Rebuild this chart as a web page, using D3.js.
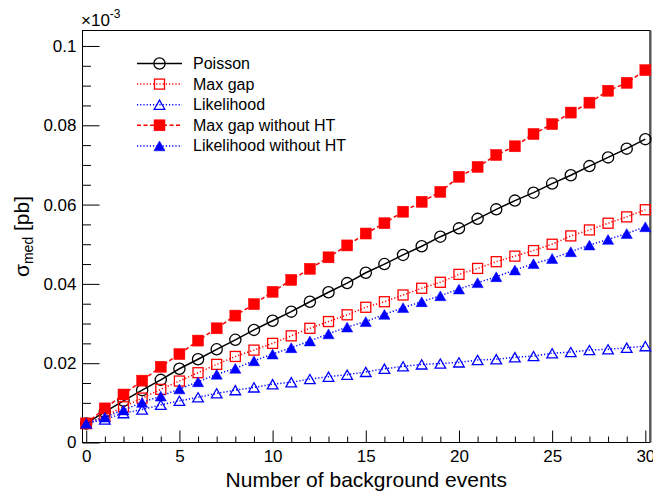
<!DOCTYPE html>
<html>
<head>
<meta charset="utf-8">
<script src="https://cdn.jsdelivr.net/npm/d3@7/dist/d3.min.js"></script>
<style>
  body { margin: 0; background: #fff; }
  text { font-family: "Liberation Sans", Arial, Helvetica, sans-serif; fill: #000; }
</style>
</head>
<body>
<div id="chart"></div>
<script>
// number of background events, 0..30
var nBkg = d3.range(0, 31);

// sigma_med in units of 1e-3 pb
var poisson = [0.0048, 0.0077, 0.0105, 0.0132, 0.0158, 0.0186, 0.0210, 0.0235, 0.0259, 0.0284,
               0.0307, 0.0330, 0.0355, 0.0379, 0.0402, 0.0428, 0.0450, 0.0473, 0.0495, 0.0519,
               0.0540, 0.0564, 0.0588, 0.0610, 0.0630, 0.0653, 0.0674, 0.0697, 0.0719, 0.0741, 0.0765];
var maxGap = [0.0048, 0.0066, 0.0090, 0.0112, 0.0134, 0.0155, 0.0176, 0.0197, 0.0217, 0.0233,
              0.0250, 0.0269, 0.0288, 0.0305, 0.0322, 0.0341, 0.0355, 0.0372, 0.0389, 0.0404,
              0.0424, 0.0439, 0.0456, 0.0470, 0.0484, 0.0500, 0.0521, 0.0536, 0.0553, 0.0569, 0.0587];
var likelihood = [0.0048, 0.0058, 0.0074, 0.0083, 0.0095, 0.0105, 0.0114, 0.0124, 0.0132, 0.0139,
                  0.0147, 0.0152, 0.0160, 0.0166, 0.0171, 0.0178, 0.0186, 0.0192, 0.0197, 0.0199,
                  0.0202, 0.0208, 0.0210, 0.0215, 0.0218, 0.0225, 0.0228, 0.0233, 0.0235, 0.0239, 0.0243];
var maxGapNoHT = [0.0048, 0.0086, 0.0121, 0.0156, 0.0191, 0.0223, 0.0257, 0.0288, 0.0320, 0.0349,
                  0.0380, 0.0410, 0.0438, 0.0467, 0.0497, 0.0527, 0.0553, 0.0582, 0.0607, 0.0632,
                  0.0670, 0.0695, 0.0725, 0.0747, 0.0778, 0.0803, 0.0832, 0.0857, 0.0887, 0.0907, 0.0939];
var likelihoodNoHT = [0.0048, 0.0064, 0.0082, 0.0101, 0.0117, 0.0135, 0.0153, 0.0172, 0.0187, 0.0206,
                      0.0223, 0.0239, 0.0256, 0.0274, 0.0291, 0.0305, 0.0323, 0.0340, 0.0355, 0.0370,
                      0.0387, 0.0403, 0.0418, 0.0435, 0.0451, 0.0464, 0.0481, 0.0498, 0.0512, 0.0527, 0.0544];

var seriesNames = ["Poisson", "Max gap", "Likelihood", "Max gap without HT", "Likelihood without HT"];
var xMajorTicks = [0, 5, 10, 15, 20, 25, 30];
var yMajorTicks = [0, 0.02, 0.04, 0.06, 0.08, 0.1];

var series = [
  { name: seriesNames[0], values: poisson,        color: "#000000", dash: null,    marker: "circle",   fill: false },
  { name: seriesNames[1], values: maxGap,         color: "#ff0000", dash: "1.2,2", marker: "square",   fill: false },
  { name: seriesNames[2], values: likelihood,     color: "#0000ff", dash: "1.2,2", marker: "triangle", fill: false },
  { name: seriesNames[3], values: maxGapNoHT,     color: "#ff0000", dash: "4,2.5", marker: "square",   fill: true },
  { name: seriesNames[4], values: likelihoodNoHT, color: "#0000ff", dash: "1.2,2", marker: "triangle", fill: true }
];

var W = 653, H = 494,
    frame = { left: 82.5, right: 650, top: 30.5, bottom: 442.5 };

var x = d3.scaleLinear().domain([-0.2, 30.25]).range([frame.left, frame.right]);
var y = d3.scaleLinear().domain([0, 0.1039]).range([frame.bottom, frame.top]);

var svg = d3.select("#chart").append("svg")
    .attr("width", W)
    .attr("height", H);

svg.append("rect").attr("width", W).attr("height", H).attr("fill", "#fff");

// x axis: ticks drawn inward like ROOT
var xAxis = d3.axisBottom(x)
    .tickValues(xMajorTicks)
    .tickSize(-12)
    .tickPadding(20)
    .tickFormat(d3.format("d"));
var gx = svg.append("g")
    .attr("transform", "translate(0," + frame.bottom + ")")
    .call(xAxis);
gx.select(".domain").remove();
gx.selectAll("text").attr("font-size", 17).attr("font-family", "Liberation Sans, Arial, sans-serif").attr("dy", "0.0em").attr("y", 19);
gx.selectAll("line").attr("stroke", "#000");

var xMinor = d3.axisBottom(x).tickValues(d3.range(0, 31).filter(function(d) { return d % 5 != 0; }))
    .tickSize(-6).tickFormat("");
var gxm = svg.append("g").attr("transform", "translate(0," + frame.bottom + ")").call(xMinor);
gxm.select(".domain").remove();
gxm.selectAll("line").attr("stroke", "#000");

// y axis
var yAxis = d3.axisLeft(y)
    .tickValues(yMajorTicks)
    .tickSize(-17)
    .tickPadding(6)
    .tickFormat(function(d) { return d === 0 ? "0" : d3.format("")(+d.toFixed(2)); });
var gy = svg.append("g")
    .attr("transform", "translate(" + frame.left + ",0)")
    .call(yAxis);
gy.select(".domain").remove();
gy.selectAll("text").attr("font-size", 17).attr("font-family", "Liberation Sans, Arial, sans-serif").attr("x", -6);
gy.selectAll("line").attr("stroke", "#000");

var yMinor = d3.axisLeft(y).tickValues(d3.range(1, 21).map(function(i) { return i * 0.005; }).filter(function(d, i) { return (i + 1) % 4 != 0; }))
    .tickSize(-8.5).tickFormat("");
var gym = svg.append("g").attr("transform", "translate(" + frame.left + ",0)").call(yMinor);
gym.select(".domain").remove();
gym.selectAll("line").attr("stroke", "#000");

// frame
svg.append("rect")
    .attr("x", frame.left).attr("y", frame.top)
    .attr("width", frame.right - frame.left).attr("height", frame.bottom - frame.top)
    .attr("fill", "none").attr("stroke", "#000").attr("stroke-width", 1);
// right edge looks heavier in the original
svg.append("line")
    .attr("x1", frame.right + 0.5).attr("x2", frame.right + 0.5)
    .attr("y1", frame.top).attr("y2", frame.bottom)
    .attr("stroke", "#555").attr("stroke-width", 2);

// exponent label
var expo = svg.append("text").attr("x", 81).attr("y", 26).attr("font-size", 17);
expo.append("tspan").text("\u00d710");
expo.append("tspan").attr("font-size", 12).attr("dy", -8).text("-3");

// axis titles
svg.append("text")
    .attr("x", (frame.left + frame.right) / 2).attr("y", 487)
    .attr("text-anchor", "middle").attr("font-size", 21)
    .text("Number of background events");

var yt = svg.append("text")
    .attr("transform", "translate(29," + ((frame.top + frame.bottom) / 2) + ") rotate(-90)")
    .attr("text-anchor", "middle").attr("font-size", 21);
yt.append("tspan").text("\u03c3");
yt.append("tspan").attr("font-size", 14).attr("dy", 4).text("med");
yt.append("tspan").attr("dy", -4).text(" [pb]");

// markers
function drawMarker(g, type, cx, cy, color, fill) {
  var m;
  if (type == "circle") {
    m = g.append("circle").attr("cx", cx).attr("cy", cy).attr("r", 5.6);
  } else if (type == "square") {
    var s = fill ? 11 : 10;
    m = g.append("rect").attr("x", cx - s / 2).attr("y", cy - s / 2).attr("width", s).attr("height", s);
  } else {
    var w = fill ? 5.6 : 5.3, h = fill ? 4.9 : 4.6;
    m = g.append("path").attr("d", "M" + (cx - w) + "," + (cy + h) + "L" + (cx + w) + "," + (cy + h) + "L" + cx + "," + (cy - h) + "Z");
  }
  m.attr("fill", fill ? color : "none")
   .attr("stroke", color)
   .attr("stroke-width", fill ? 0.5 : 1.3);
}

var line = d3.line()
    .x(function(d, i) { return x(nBkg[i]); })
    .y(function(d) { return y(d); });

series.forEach(function(s) {
  var g = svg.append("g");
  g.append("path")
      .attr("d", line(s.values))
      .attr("fill", "none")
      .attr("stroke", s.color)
      .attr("stroke-width", 1.5)
      .attr("stroke-dasharray", s.dash);
  s.values.forEach(function(v, i) {
    drawMarker(g, s.marker, x(nBkg[i]), y(v), s.color, s.fill);
  });
});

// legend
var legend = svg.append("g");
series.forEach(function(s, i) {
  var cy = 63.5 + i * 20.6;
  legend.append("line")
      .attr("x1", 137).attr("x2", 182).attr("y1", cy).attr("y2", cy)
      .attr("stroke", s.color).attr("stroke-width", 1.5)
      .attr("stroke-dasharray", s.dash);
  drawMarker(legend, s.marker, 159.5, cy, s.color, s.fill);
  legend.append("text")
      .attr("x", 193).attr("y", cy + 5.5)
      .attr("font-size", 16)
      .text(s.name);
});
</script>
</body>
</html>
